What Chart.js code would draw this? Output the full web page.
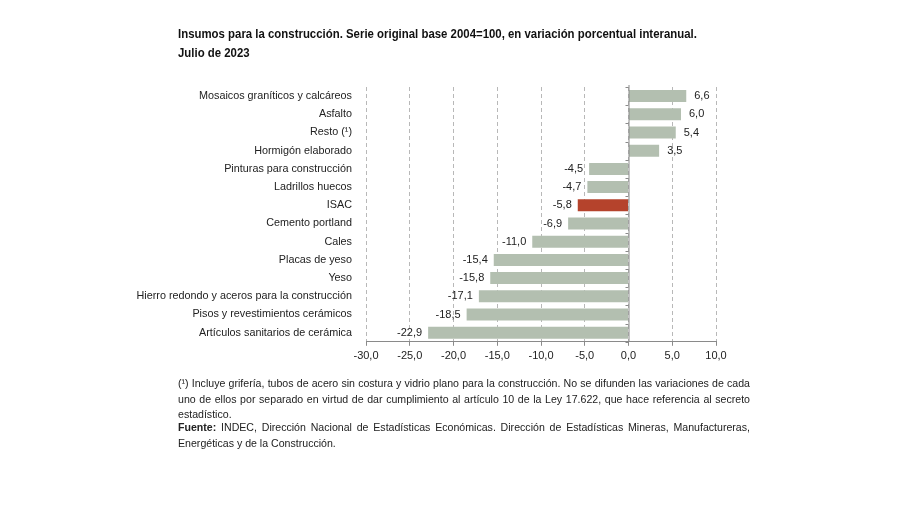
<!DOCTYPE html>
<html>
<head>
<meta charset="utf-8">
<script src="https://cdn.jsdelivr.net/npm/chart.js@4"></script>
<style>
  body { margin: 0; background: #fff; width: 900px; height: 505px; position: relative; overflow: hidden; font-family: "Liberation Sans", Arial, sans-serif; }
  #title { position: absolute; left: 178px; top: 24px; white-space: nowrap; font-family: "Liberation Sans", Arial, sans-serif; font-weight: bold; font-size: 13.5px; line-height: 19px; color: #111; transform: scaleX(0.845); transform-origin: left top; }
  #wrap { position: absolute; left: 0; top: 0; width: 900px; height: 505px; }
  .note { position: absolute; left: 178px; width: 572px; font-size: 10.6px; line-height: 15.5px; color: #222; text-align: justify; }
  #n1 { top: 376px; }
  #n2 { top: 420px; }
</style>
</head>
<body>
<div id="wrap"><canvas id="chart" width="900" height="505"></canvas></div>
<div id="title">Insumos para la construcción. Serie original base 2004=100, en variación porcentual interanual.<br>Julio de 2023</div>
<div class="note" id="n1">(¹) Incluye grifería, tubos de acero sin costura y vidrio plano para la construcción. No se difunden las variaciones de cada uno de ellos por separado en virtud de dar cumplimiento al artículo 10 de la Ley 17.622, que hace referencia al secreto estadístico.</div>
<div class="note" id="n2"><b>Fuente:</b> INDEC, Dirección Nacional de Estadísticas Económicas. Dirección de Estadísticas Mineras, Manufactureras, Energéticas y de la Construcción.</div>
<script>
const categories = [
  "Mosaicos graníticos y calcáreos",
  "Asfalto",
  "Resto (¹)",
  "Hormigón elaborado",
  "Pinturas para construcción",
  "Ladrillos huecos",
  "ISAC",
  "Cemento portland",
  "Cales",
  "Placas de yeso",
  "Yeso",
  "Hierro redondo y aceros para la construcción",
  "Pisos y revestimientos cerámicos",
  "Artículos sanitarios de cerámica"
];
const values = [6.6, 6.0, 5.4, 3.5, -4.5, -4.7, -5.8, -6.9, -11.0, -15.4, -15.8, -17.1, -18.5, -22.9];
const highlight = "ISAC";

const fmt = v => v.toFixed(1).replace(".", ",");

// labels + zero line with small ticks
const extras = {
  id: "extras",
  afterDatasetsDraw(chart) {
    const ctx = chart.ctx, x = chart.scales.x;
    const area = chart.chartArea;
    const x0 = x.getPixelForValue(0);
    ctx.save();
    ctx.strokeStyle = "#8a8a8a";
    ctx.lineWidth = 1;
    ctx.beginPath();
    ctx.moveTo(x0 + 0.5, area.top - 2);
    ctx.lineTo(x0 + 0.5, area.bottom);
    const step = (area.bottom - area.top) / categories.length;
    for (let i = 0; i <= categories.length; i++) {
      const yy = Math.round(area.top + i * step) + 0.5;
      ctx.moveTo(x0 - 3, yy);
      ctx.lineTo(x0, yy);
    }
    ctx.stroke();

    ctx.fillStyle = "#222";
    ctx.font = "11px 'Liberation Sans', Arial, sans-serif";
    ctx.textBaseline = "middle";
    const meta = chart.getDatasetMeta(0);
    meta.data.forEach((bar, i) => {
      const v = values[i];
      if (v >= 0) {
        ctx.textAlign = "left";
        ctx.fillText(fmt(v), bar.x + 8, bar.y);
      } else {
        ctx.textAlign = "right";
        ctx.fillText(fmt(v), bar.x - 6, bar.y);
      }
    });
    ctx.restore();
  }
};

new Chart(document.getElementById("chart"), {
  type: "bar",
  data: {
    labels: categories,
    datasets: [{
      data: values,
      backgroundColor: categories.map(c => c === highlight ? "#b5432c" : "#b3bfb0"),
      barPercentage: 0.66,
      categoryPercentage: 1
    }]
  },
  options: {
    indexAxis: "y",
    responsive: false,
    animation: false,
    layout: { padding: { left: 0, top: 87, right: 184, bottom: 138 } },
    plugins: { legend: { display: false }, tooltip: { enabled: false } },
    scales: {
      x: {
        min: -30, max: 10,
        ticks: {
          stepSize: 5,
          color: "#222",
          font: { size: 11, family: "'Liberation Sans', Arial, sans-serif" },
          padding: 4,
          callback: v => fmt(v)
        },
        grid: {
          color: "#b8b8b8",
          tickColor: "#8a8a8a",
          tickLength: 4,
          tickBorderDash: [],
          drawOnChartArea: true
        },
        border: { display: true, color: "#8a8a8a", dash: [4, 3] }
      },
      y: {
        afterFit: s => { s.width = 366; },
        grid: { display: false },
        border: { display: false },
        ticks: {
          color: "#222",
          padding: 6,
          font: { size: 10.8, family: "'Liberation Sans', Arial, sans-serif" }
        }
      }
    }
  },
  plugins: [extras]
});
</script>
</body>
</html>
